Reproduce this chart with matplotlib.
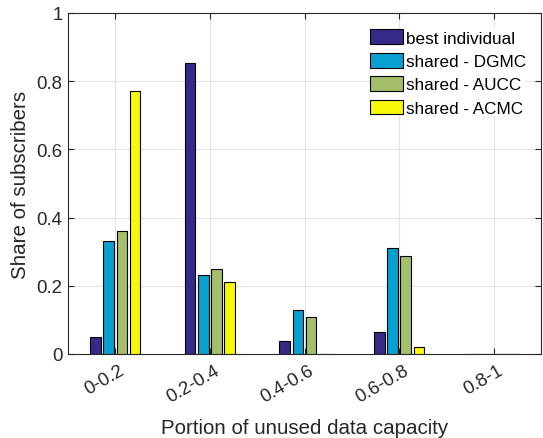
import matplotlib
matplotlib.use('Agg')
import matplotlib.pyplot as plt
import matplotlib.transforms as mtransforms
import numpy as np

# Data
categories = ['0-0.2', '0.2-0.4', '0.4-0.6', '0.6-0.8', '0.8-1']
series_names = ['best individual', 'shared - DGMC', 'shared - AUCC', 'shared - ACMC']
best_individual = [0.049, 0.852, 0.039, 0.064, 0.0]
shared_dgmc = [0.331, 0.232, 0.128, 0.311, 0.0]
shared_aucc = [0.360, 0.249, 0.108, 0.287, 0.0]
shared_acmc = [0.770, 0.210, 0.0, 0.021, 0.0]
y_ticks = [0, 0.2, 0.4, 0.6, 0.8, 1]
y_tick_labels = ['0', '0.2', '0.4', '0.6', '0.8', '1']

colors = ['#352A87', '#0A9FD1', '#A5BE6A', '#F7F70A']
text_color = '#262626'

plt.rcParams['font.family'] = ['Liberation Sans', 'DejaVu Sans']

fig = plt.figure(figsize=(5.43, 4.39), dpi=100)
ax = fig.add_axes([68 / 543, 1 - 355 / 439, 473 / 543, 341 / 439])

x = np.arange(1, len(categories) + 1)
step = 0.14
width = 0.112
all_series = [best_individual, shared_dgmc, shared_aucc, shared_acmc]
for i, (vals, name, col) in enumerate(zip(all_series, series_names, colors)):
    ax.bar(x + (i - 1.5) * step, vals, width, color=col, edgecolor='black',
           linewidth=0.8, label=name, zorder=3)

ax.set_xlim(0.5, 5.5)
ax.set_ylim(0, 1)
ax.set_xticks(x)
ax.set_xticklabels(categories, rotation=30, ha='right', va='center',
                   rotation_mode='anchor')
ax.set_yticks(y_ticks)
ax.set_yticklabels(y_tick_labels)

ax.grid(True, color='#E3E3E3', linewidth=0.8, zorder=0)
ax.set_axisbelow(True)
ax.tick_params(direction='in', top=True, right=True, length=4, width=0.8,
               color=text_color, labelcolor=text_color, labelsize=13.4, pad=4)
ax.tick_params(axis='x', pad=11)

# MATLAB puts the rotated labels a bit to the right of the tick
shift = mtransforms.ScaledTranslation(8 / 100, 0, fig.dpi_scale_trans)
for lbl in ax.get_xticklabels():
    lbl.set_transform(lbl.get_transform() + shift)

for s in ax.spines.values():
    s.set_color(text_color)
    s.set_linewidth(0.8)

ax.set_xlabel('Portion of unused data capacity', fontsize=14.8,
              color=text_color, labelpad=9)
ax.set_ylabel('Share of subscribers', fontsize=14.8, color=text_color,
              labelpad=4.5)

leg = ax.legend(loc='upper left', bbox_to_anchor=(0.639, 0.952),
                fontsize=12.3, frameon=True, facecolor='white',
                edgecolor='none', framealpha=1, fancybox=False,
                borderpad=0, borderaxespad=0, handlelength=1.9,
                handleheight=0.95, handletextpad=0.2, labelspacing=0.42)

fig.savefig('out.png', dpi=100)
